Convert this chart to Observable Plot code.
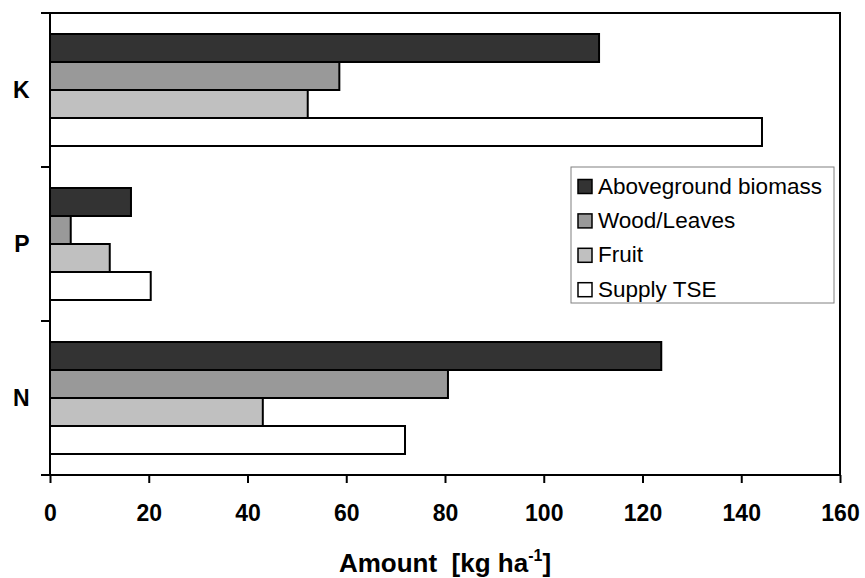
<!DOCTYPE html>
<html><head><meta charset="utf-8">
<script src="https://cdn.jsdelivr.net/npm/d3@7"></script>
<script src="https://cdn.jsdelivr.net/npm/@observablehq/plot@0.6"></script>
<style>body{margin:0;background:#fff} svg{font-family:"Liberation Sans",Arial,sans-serif}</style>
</head><body><div id="chart"></div>
<script>
const elements = ["K", "P", "N"];
const series = ["Aboveground biomass", "Wood/Leaves", "Fruit", "Supply TSE"];
const aboveground = [111.2, 16.4, 123.8];
const woodLeaves = [58.6, 4.2, 80.6];
const fruit = [52.2, 12.1, 43.1];
const supplyTSE = [144.2, 20.4, 71.9];
const colors = ["#333333", "#999999", "#c0c0c0", "#ffffff"];
const xTicks = [0, 20, 40, 60, 80, 100, 120, 140, 160];
const xTitle = "Amount  [kg ha";
const xTitleSup = "-1";

const values = [aboveground, woodLeaves, fruit, supplyTSE];
const data = elements.flatMap((e, i) => series.map((s, j) => ({element: e, series: s, value: values[j][i]})));

const chart = Plot.plot({
  width: 865, height: 578,
  marginLeft: 50, marginRight: 25, marginTop: 13, marginBottom: 103,
  style: {fontFamily: '"Liberation Sans", Arial, sans-serif', background: "white", overflow: "visible", color: "black"},
  x: {domain: [0, 160], label: null},
  fy: {domain: elements, padding: 0, label: null},
  y: {domain: series, paddingInner: 0, paddingOuter: 0.75, axis: null},
  color: {domain: series, range: colors},
  marks: [
    Plot.barX(data, {fy: "element", y: "series", x: "value", fill: "series", stroke: "black", strokeWidth: 2}),
    Plot.axisX({ticks: xTicks, tickSize: 8, tickPadding: 21, fontSize: 23, fontWeight: "bold", strokeWidth: 2, label: null}),
    Plot.axisFy({anchor: "left", tickSize: 0, tickPadding: 21, fontSize: 23, fontWeight: "bold", label: null})
  ]
});
document.getElementById("chart").appendChild(chart);

const svg = d3.select(chart);
const xs = chart.scale("x"), fys = chart.scale("fy");
const x0 = xs.apply(0), x1 = xs.apply(160);
const yTop = fys.apply(elements[0]);
const yBottom = fys.apply(elements[elements.length - 1]) + fys.bandwidth;
const bounds = elements.map(e => fys.apply(e)).concat([yBottom]);

svg.append("rect").attr("x", x0).attr("y", yTop).attr("width", x1 - x0).attr("height", yBottom - yTop)
  .attr("fill", "none").attr("stroke", "black").attr("stroke-width", 2);
svg.append("g").selectAll("line").data(bounds).join("line")
  .attr("x1", x0 - 9).attr("x2", x0).attr("y1", d => d).attr("y2", d => d)
  .attr("stroke", "black").attr("stroke-width", 2);

const t = svg.append("text").attr("x", (x0 + x1) / 2).attr("y", 572).attr("text-anchor", "middle")
  .attr("font-size", 26).attr("font-weight", "bold").style("white-space", "pre");
t.append("tspan").text(xTitle);
t.append("tspan").attr("dy", -11).attr("font-size", 16).text(xTitleSup);
t.append("tspan").attr("dy", 11).text("]");

// legend
const lg = svg.append("g").attr("font-size", 22.5).attr("text-anchor", "start");
lg.append("rect").attr("x", 571).attr("y", 167).attr("width", 263).attr("height", 136)
  .attr("fill", "white").attr("stroke", "#808080").attr("stroke-width", 1);
series.forEach((s, i) => {
  const by = 193.5 + i * 34.4;
  lg.append("rect").attr("x", 578).attr("y", by - 14).attr("width", 14).attr("height", 14)
    .attr("fill", colors[i]).attr("stroke", "black").attr("stroke-width", 1.5);
  lg.append("text").attr("x", 598).attr("y", by).attr("text-anchor", "start").text(s);
});
</script></body></html>
